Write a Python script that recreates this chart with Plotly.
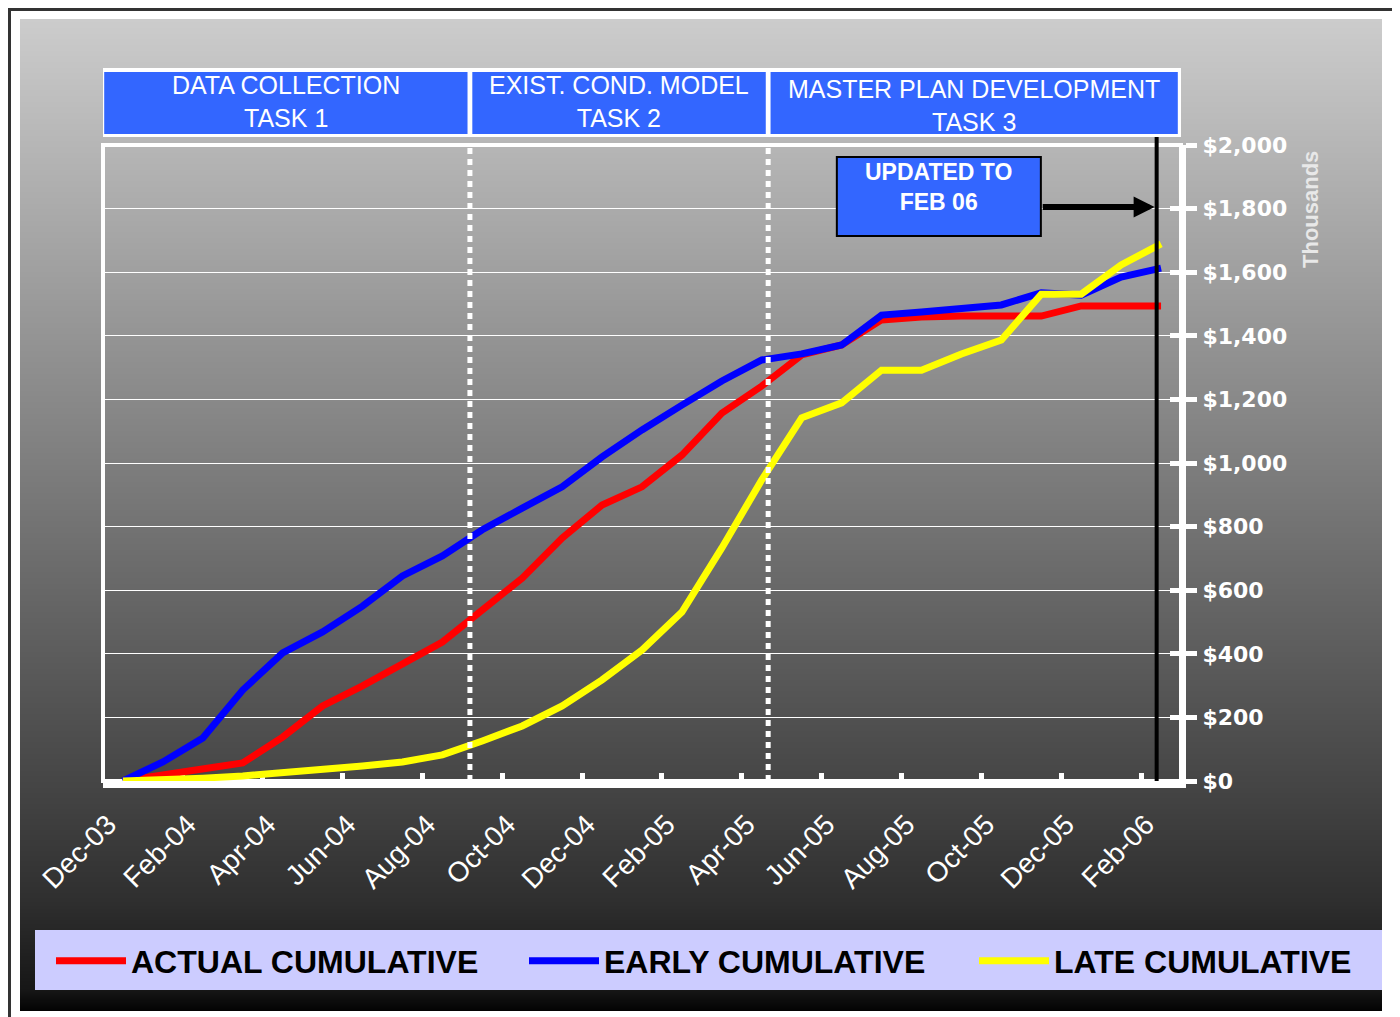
import base64
import struct
import zlib

import numpy as np
import plotly.graph_objects as go

# ---------------- data (thousands of $) ----------------
months = ["Dec-03", "Jan-04", "Feb-04", "Mar-04", "Apr-04", "May-04", "Jun-04",
          "Jul-04", "Aug-04", "Sep-04", "Oct-04", "Nov-04", "Dec-04", "Jan-05",
          "Feb-05", "Mar-05", "Apr-05", "May-05", "Jun-05", "Jul-05", "Aug-05",
          "Sep-05", "Oct-05", "Nov-05", "Dec-05", "Jan-06", "Feb-06"]
actual = [0, 19, 35, 57, 138, 236, 299, 368, 437, 538, 638, 764, 868, 925, 1025,
          1157, 1242, 1340, 1371, 1450, 1459, 1462, 1462, 1462, 1494, 1494, 1494]
early = [0, 60, 135, 286, 403, 469, 550, 645, 708, 790, 858, 925, 1019, 1104, 1182,
         1258, 1324, 1343, 1371, 1465, 1475, 1484, 1497, 1535, 1528, 1585, 1613]
late = [0, 3, 9, 16, 25, 35, 47, 60, 82, 126, 173, 236, 318, 412, 531,
        733, 947, 1142, 1189, 1292, 1292, 1343, 1387, 1531, 1531, 1623, 1689]
series_names = ["ACTUAL CUMULATIVE", "EARLY CUMULATIVE", "LATE CUMULATIVE"]
series_colors = ["#FF0000", "#0000FF", "#FFFF00"]
task_labels = ["DATA COLLECTION<br>TASK 1", "EXIST. COND. MODEL<br>TASK 2",
               "MASTER PLAN DEVELOPMENT<br>TASK 3"]
y_ticks = list(range(0, 2001, 200))
y_ticktext = ["${:,}".format(v) for v in y_ticks]

# ---------------- geometry helpers (screen pixels; page has an 8px body margin) ----------------
OFF = 8
W, H = 1400 - OFF, 1017 - OFF
ML, MT = 103 - OFF, 145 - OFF
MR = W - (1181 - OFF)
MB = H - (781 - OFF)
PW, PH = W - ML - MR, H - MT - MB


def px_x(s):  # screen pixel -> paper x
    return (s - OFF - ML) / PW


def px_y(s):  # screen pixel -> paper y
    return (H - MB - (s - OFF)) / PH


def png_column(vals, width=2):
    raw = b"".join(b"\x00" + bytes([v]) * width for v in vals)

    def chunk(tag, data):
        c = tag + data
        return struct.pack(">I", len(data)) + c + struct.pack(">I", zlib.crc32(c) & 0xFFFFFFFF)

    ihdr = struct.pack(">IIBBBBB", width, len(vals), 8, 0, 0, 0, 0)
    png = b"\x89PNG\r\n\x1a\n" + chunk(b"IHDR", ihdr) + chunk(b"IDAT", zlib.compress(raw)) + chunk(b"IEND", b"")
    return "data:image/png;base64," + base64.b64encode(png).decode()


# background gradient (grey to black)
g_top, g_bot = 19, 1011
stops_y = [19, 790, 900, 990, 1011]
stops_v = [204, 68, 47, 22, 2]
grad = [int(round(v)) for v in np.interp(np.arange(g_top, g_bot), stops_y, stops_v)]

x_idx = np.arange(len(months))
legend_ids = ["legend", "legend2", "legend3"]
legend_x = [51, 524, 974]

fig = go.Figure()
for vals, name, col, lg in zip([actual, early, late], series_names, series_colors, legend_ids):
    fig.add_trace(go.Scatter(x=x_idx, y=vals, mode="lines", name=name, legend=lg,
                             line=dict(color=col, width=7), hoverinfo="skip"))

tick_pos = np.arange(0, len(months), 2) - 0.5

legend_font = dict(family="Liberation Sans, Arial", size=32, color="black", weight="bold")
legends = {}
for lg, lx in zip(legend_ids, legend_x):
    legends[lg] = dict(orientation="h", x=px_x(lx), y=px_y(961), xanchor="left", yanchor="middle",
                       bgcolor="rgba(0,0,0,0)", itemwidth=70, font=legend_font)

fig.update_layout(
    width=W, height=H,
    margin=dict(l=ML, r=MR, t=MT, b=MB),
    paper_bgcolor="white",
    plot_bgcolor="rgba(0,0,0,0)",
    font=dict(family="Liberation Sans, Arial", color="white"),
    xaxis=dict(range=[-0.5, len(months) - 0.5], tickvals=tick_pos, ticktext=months[0::2],
               ticks="inside", ticklen=8, tickwidth=5, tickcolor="white",
               showline=True, linewidth=7, linecolor="white", showgrid=False, zeroline=False,
               tickangle=-45, tickfont=dict(size=28, color="white"),
               ticklabelshift=5, ticklabelstandoff=9, layer="below traces"),
    yaxis=dict(side="right", range=[0, 2000], tickvals=y_ticks, ticktext=y_ticktext,
               ticks="outside", ticklen=11, tickwidth=5, tickcolor="white",
               showline=True, linewidth=5, linecolor="white",
               showgrid=True, gridcolor="white", gridwidth=1, zeroline=False,
               tickfont=dict(family="DejaVu Sans", size=22, color="white", weight="bold"),
               ticklabelstandoff=1, layer="below traces"),
    yaxis2=dict(overlaying="y", side="right", range=[0, 2000], tickvals=y_ticks,
                ticks="inside", ticklen=11, tickwidth=5, tickcolor="white",
                showticklabels=False, showgrid=False, showline=False, zeroline=False),
    showlegend=True,
    **legends,
)

fig.add_trace(go.Scatter(x=[None], y=[None], yaxis="y2", showlegend=False, hoverinfo="skip"))

# gradient background
fig.add_layout_image(dict(source=png_column(grad), xref="paper", yref="paper",
                          x=px_x(20), y=px_y(g_top), sizex=(1382 - 20) / PW, sizey=(g_bot - g_top) / PH,
                          xanchor="left", yanchor="top", sizing="stretch", layer="below"))

shapes = []
# outer dark frame
shapes.append(dict(type="rect", xref="paper", yref="paper", x0=px_x(OFF + 1.5), x1=px_x(1395),
                   y0=px_y(1040), y1=px_y(OFF + 1.5), line=dict(color="#333333", width=3), layer="below"))
# legend box
shapes.append(dict(type="rect", xref="paper", yref="paper", x0=px_x(35), x1=px_x(1382),
                   y0=px_y(990), y1=px_y(930), fillcolor="#CCCCFF", line=dict(width=0), layer="below"))
# plot frame (left/top white)
shapes.append(dict(type="rect", xref="paper", yref="paper", x0=0, x1=1, y0=0, y1=1,
                   line=dict(color="white", width=4), layer="below"))

# header task boxes
task_bounds = [-0.5, 8.69, 16.16, 26.5]
shapes.append(dict(type="rect", xref="x", yref="paper", x0=-0.58, x1=26.52,
                   y0=px_y(137), y1=px_y(68), fillcolor="white", line=dict(width=0), layer="above"))
for i in range(3):
    x0 = task_bounds[i] + (0.03 if i == 0 else 0.06)
    x1 = task_bounds[i + 1] - (0.08 if i == 2 else 0.06)
    shapes.append(dict(type="rect", xref="x", yref="paper", x0=x0, x1=x1,
                       y0=px_y(134), y1=px_y(72), fillcolor="#3366FF", line=dict(width=0), layer="above"))
    ycen = px_y(102) if i < 2 else px_y(106)
    fig.add_annotation(x=(x0 + x1) / 2, y=ycen, xref="x", yref="paper", text=task_labels[i],
                       xanchor="center", yanchor="middle",
                       showarrow=False, font=dict(size=25, color="white"), align="center")

# dotted task dividers
for xb in task_bounds[1:3]:
    shapes.append(dict(type="line", xref="x", yref="paper", x0=xb, x1=xb, y0=0, y1=1,
                       line=dict(color="white", width=5, dash="6px,5px"), layer="above"))

# status line
status_x = 25.89
shapes.append(dict(type="line", xref="x", yref="paper", x0=status_x, x1=status_x,
                   y0=0, y1=px_y(137), line=dict(color="black", width=4), layer="above"))

# updated box
shapes.append(dict(type="rect", xref="x", yref="paper", x0=17.88, x1=22.99,
                   y0=px_y(236), y1=px_y(157), fillcolor="#3366FF",
                   line=dict(color="black", width=2), layer="above"))
fig.update_layout(shapes=shapes)

fig.add_annotation(x=20.43, y=px_y(187), xref="x", yref="paper", text="<b>UPDATED TO<br>FEB 06</b>",
                   xanchor="center", yanchor="middle",
                   showarrow=False, font=dict(size=23, color="white"), align="center")
fig.add_annotation(x=status_x - 0.05, y=1805, xref="x", yref="y", ax=23.0, ay=1805,
                   axref="x", ayref="y", text="", showarrow=True, arrowhead=2, arrowsize=0.7,
                   arrowwidth=6, arrowcolor="black")

# axis unit label
fig.add_annotation(x=px_x(1310), y=px_y(210), xref="paper", yref="paper", text="<b>Thousands</b>",
                   xanchor="center", yanchor="middle",
                   textangle=-90, showarrow=False, font=dict(size=22, color="#E8E8E8"))

fig.write_html("out.html")
